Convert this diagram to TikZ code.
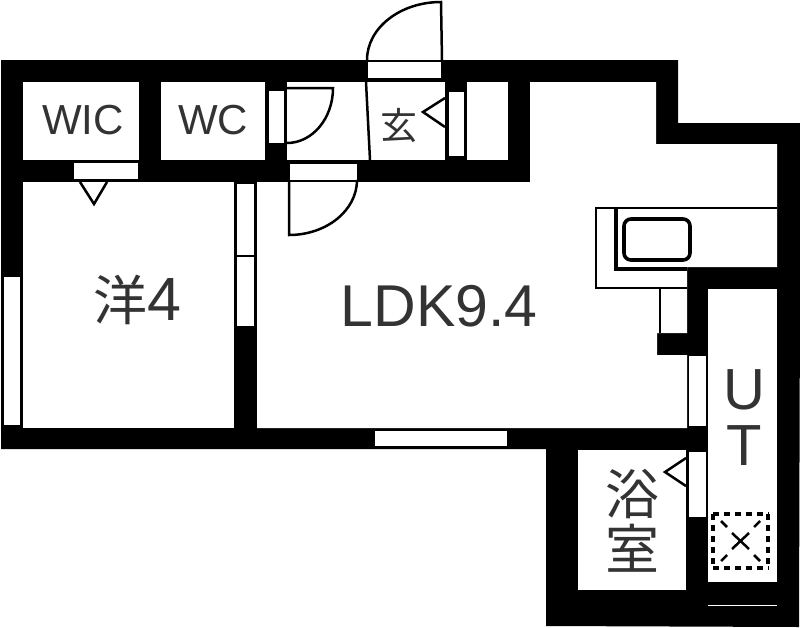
\documentclass[tikz,border=0pt]{standalone}
\usepackage{fontspec}
\setmainfont{Liberation Sans}
\newfontfamily\jpfont{Noto Sans CJK JP}
\begin{document}
\begin{tikzpicture}[x=1pt,y=-1pt]
	\tikzstyle{wall}=[fill=black]
	\tikzstyle{room}=[fill=white]
	\tikzstyle{fine}=[draw=black, line width=2.5pt]
	\tikzstyle{heavy}=[draw=black, line width=3.6pt]
	\tikzstyle{shaft}=[draw=black, line width=3.5pt]
	\tikzstyle{txt}=[inner sep=0pt, text=black!80]
	\useasboundingbox (0,0) rectangle (800,627);
	% walls
	\fill[wall] (1,60) -- (678,60) -- (678,123) -- (800,123) -- (800,290) -- (799,627) -- (546,626) -- (546,449) -- (1,449) -- cycle;
	% rooms
	\fill[room] (23,82) rectangle (139,160);
	\fill[room] (161,82) rectangle (265,160);
	\fill[room] (287,82) rectangle (445,160);
	\fill[room] (467,82) rectangle (508,160);
	\fill[room] (23,182) rectangle (234,428);
	\fill[room] (257,182) -- (530,182) -- (530,82) -- (656,82) -- (656,144) -- (777,144) -- (777,267) -- (687,267) -- (687,333) -- (657,333) -- (657,355) -- (687,355) -- (687,428) -- (257,428) -- cycle;
	\fill[room] (708,289) rectangle (777,582);
	\fill[room] (578,450) rectangle (686,590);
	% windows and door frames
	\fill[room] (368,62) rectangle (441,78);
	\fill[room] (74,163) rectangle (138,179);
	\fill[room] (290,164) rectangle (357,180);
	\fill[room] (269,91) rectangle (284,143);
	\fill[room] (449,92) rectangle (464,156);
	\fill[room] (237,184) rectangle (254,255);
	\fill[room] (237,257) rectangle (254,326);
	\fill[room] (4,277) rectangle (20,425);
	\fill[room] (375,431) rectangle (507,446);
	\fill[room] (689,356) rectangle (706,426);
	\fill[room] (689,452) rectangle (706,517);
	\fill[room] (708,605) rectangle (777,606);
	% door leaves
	\draw[fine] (367,60) arc[start angle=180, end angle=90, x radius=74pt, y radius=58pt] -- (442,60);
	\draw[fine] (287,88) -- (333,88) arc[start angle=0, end angle=-90, x radius=46pt, y radius=55pt];
	\draw[fine] (289,180) -- (289,235) arc[start angle=-90, end angle=0, x radius=68pt, y radius=55pt];
	\draw[fine] (366,82) -- (370,160);
	% triangles
	\draw[fine] (80,182) -- (94,204) -- (107,182);
	\draw[fine] (445,98) -- (423,112) -- (445,127);
	\draw[fine] (686,458) -- (665,472) -- (686,486);
	% kitchen
	\draw[fine] (777,208) -- (596,208) -- (596,288) -- (687,288);
	\draw[fine] (660,288) -- (660,333);
	\draw[heavy] (616,208) -- (616,269) -- (687,269);
	\draw[heavy, rounded corners=7pt] (624,219) rectangle (690,260);
	% shaft
	\draw[shaft, dash pattern=on 6pt off 5pt] (713,514) -- (769,514);
	\draw[shaft, dash pattern=on 6pt off 5pt] (713,568) -- (769,568);
	\draw[shaft, dash pattern=on 6pt off 5pt] (713,514) -- (713,568);
	\draw[shaft, dash pattern=on 6pt off 5pt] (768,514) -- (768,568);
	\draw[fine] (732,533) -- (749,549) (749,533) -- (732,549);
	\draw[fine] (721,521) -- (727,527) (760,521) -- (754,527) (721,561) -- (727,555) (760,561) -- (754,555);
	% labels
	\node[txt, font=\fontsize{42}{42}\selectfont] (wic) at (83,120) {WIC};
	\node[txt, font=\fontsize{42}{42}\selectfont] (wc) at (213,120) {WC};
	\node[txt, font=\fontsize{59}{59}\selectfont] (ldk) at (439,306) {LDK9.4};
	\node[txt, font=\fontsize{61}{61}\selectfont] (yo) at (137,300) {{\fontsize{54}{54}\jpfont 洋}4};
	\node[txt, font=\fontsize{37}{37}\jpfont] (gen) at (399,126) {玄};
	\node[txt, font=\fontsize{54}{55}\jpfont, align=center] (bath) at (632,521) {浴\\室};
	\node[txt, font=\fontsize{58}{56}\selectfont, align=center] (ut) at (744,418) {U\\T};
\end{tikzpicture}
\end{document}
